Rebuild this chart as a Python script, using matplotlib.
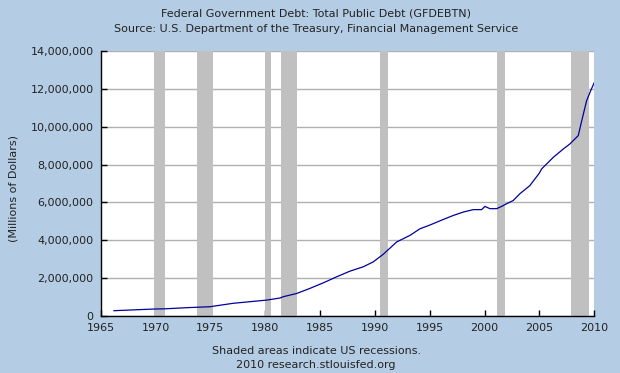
import matplotlib
matplotlib.use('Agg')
import matplotlib.pyplot as plt
from matplotlib.ticker import FuncFormatter

# total public debt, millions of dollars
years = [1966.21, 1967.83, 1969.95, 1970.86, 1972.84, 1974.96, 1977.06, 1980.13,
         1981.34, 1981.65, 1982.87, 1984.08, 1985.29, 1986.51, 1987.73, 1988.94,
         1989.85, 1990.76, 1991.98, 1993.20, 1994.11, 1994.95, 1996.23, 1997.14,
         1998.05, 1998.97, 1999.73, 2000.03, 2000.49, 2001.10, 2001.55, 2002.01,
         2002.61, 2003.22, 2004.13, 2004.98, 2005.20, 2006.26, 2007.17, 2007.78,
         2008.54, 2008.85, 2009.30, 2009.67, 2010.00]
debt = [280000, 320000, 370000, 380000, 440000, 490000, 670000, 840000,
        950000, 1020000, 1190000, 1460000, 1750000, 2070000, 2370000, 2600000,
        2860000, 3260000, 3910000, 4260000, 4610000, 4790000, 5100000, 5310000,
        5490000, 5620000, 5620000, 5790000, 5670000, 5670000, 5790000, 5930000,
        6100000, 6460000, 6890000, 7540000, 7770000, 8380000, 8820000, 9090000,
        9530000, 10300000, 11370000, 11900000, 12330000]

# recession start / end (shaded bars)
rec_start = [1969.86, 1973.78, 1979.98, 1981.44, 1990.46, 2001.13, 2007.87]
rec_end = [1970.83, 1975.21, 1980.50, 1982.87, 1991.16, 2001.83, 2009.48]

x_ticks = list(range(1965, 2011, 5))
y_ticks = list(range(0, 14000001, 2000000))

bg = '#b4cde5'
txt = '#222222'
fs = 8
plt.rcParams['font.family'] = ['DejaVu Sans']

fig = plt.figure(figsize=(6.2, 3.73), dpi=100, facecolor=bg)
ax = fig.add_axes([0.1624, 0.1528, 0.7961, 0.7105])
ax.set_facecolor('white')

for s, e in zip(rec_start, rec_end):
    ax.axvspan(s, e, color='#c0c0c0', lw=0, zorder=2)

ax.plot(years, debt, color='#00009c', lw=0.9, zorder=3)

ax.set_xlim(1965, 2010)
ax.set_ylim(0, 14000000)
ax.set_xticks(x_ticks)
ax.set_yticks(y_ticks)
ax.yaxis.set_major_formatter(FuncFormatter(lambda v, p: '{:,.0f}'.format(v)))
ax.grid(axis='y', color='#b0b0b0', lw=1, zorder=1)
ax.set_axisbelow(True)

for side in ['top', 'right']:
    ax.spines[side].set_visible(False)
for side in ['left', 'bottom']:
    ax.spines[side].set_color('black')
    ax.spines[side].set_linewidth(1)
    ax.spines[side].set_zorder(4)

ax.tick_params(axis='both', direction='in', length=4, width=1, color='black',
               labelsize=fs, labelcolor=txt)
ax.tick_params(axis='y', pad=5)
ax.tick_params(axis='x', pad=5)

fig.text(316 / 620, 1 - 13 / 373, 'Federal Government Debt: Total Public Debt (GFDEBTN)',
         ha='center', va='center', fontsize=fs, color=txt)
fig.text(316 / 620, 1 - 29 / 373, 'Source: U.S. Department of the Treasury, Financial Management Service',
         ha='center', va='center', fontsize=fs, color=txt)
fig.text(14 / 620, 1 - 189 / 373, '(Millions of Dollars)', rotation=90,
         ha='center', va='center', fontsize=fs, color=txt)
fig.text(317 / 620, 1 - 351 / 373, 'Shaded areas indicate US recessions.',
         ha='center', va='center', fontsize=fs, color=txt)
fig.text(316 / 620, 1 - 365 / 373, '2010 research.stlouisfed.org',
         ha='center', va='center', fontsize=fs, color=txt)

fig.savefig('out.png', dpi=100, facecolor=bg)
